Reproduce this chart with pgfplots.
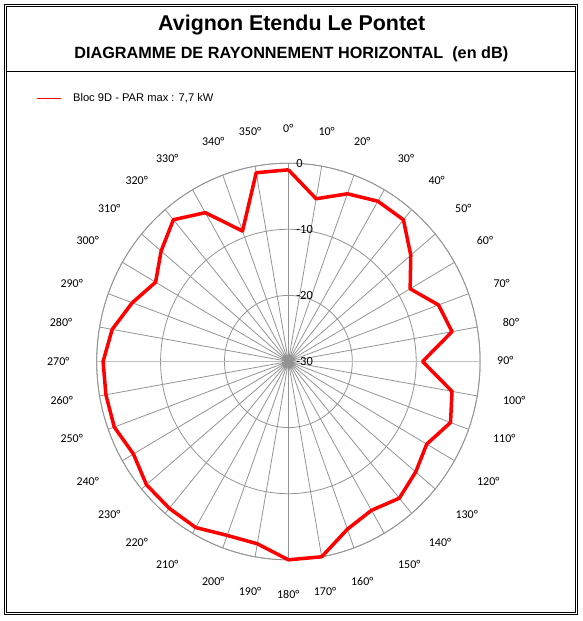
\documentclass[border=0pt]{standalone}
\usepackage{pgfplots}
\pgfplotsset{compat=1.18}
\usepgfplotslibrary{polar}
\usepackage{pgfplotstable}
\usepackage{fontspec}
\setmainfont{Liberation Sans}
\newfontfamily\calib{Carlito}

\pgfplotstableread{
angle db
0 -1
10 -5
20 -3
30 -2
40 -2
50 -5
60 -8
70 -5
80 -4
90 -9
100 -4
110 -3
120 -5
130 -4
140 -3
150 -4
160 -3
170 0
180 0
190 -2
200 -2
210 -1
220 -1
230 -1
240 -2
250 -1
260 -1
270 -1
280 -2
290 -4
300 -6
310 -4
320 -2
330 -4
340 -9
350 -1
360 -1
}\diagtable

\begin{document}
\begin{tikzpicture}
\path[use as bounding box] (0bp,0bp) rectangle (583bp,621bp);
\begin{scope}[x=1bp,y=-1bp,yshift=621bp]
  \draw[line width=1bp] (4.5,4.7) rectangle (577.3,615);
  \draw[line width=1bp] (6.3,6.3) rectangle (575,612.7);
  \draw[line width=1bp] (6.3,71.7) -- (575,71.7);
  \node[anchor=base, inner sep=0pt, font=\bfseries\fontsize{21.5}{24}\selectfont] at (291.7,31) {Avignon Etendu Le Pontet};
  \node[anchor=base, inner sep=0pt, font=\bfseries\fontsize{16.3}{19}\selectfont] at (291.3,58.3) {DIAGRAMME DE RAYONNEMENT HORIZONTAL\ \ (en dB)};
  \foreach \a/\px/\py in {0/288.3/128.3, 10/326.7/131.7, 20/362.3/141.7, 30/406/158.3, 40/436.7/180, 50/463.3/208.3, 60/485/240, 70/501.7/283.3, 80/511/322.3, 90/505.3/360.7, 100/514.3/400, 110/504.3/438.3, 120/488.3/481.7, 130/466.7/514.3, 140/440/542.3, 150/409.3/564.3, 160/362.3/581.7, 170/325/591.7, 180/288.3/594.3, 190/250/591, 200/213.3/581.7, 210/167.3/564.3, 220/136.7/542.3, 230/109.3/514.3, 240/87.7/481.7, 250/71.7/438.3, 260/61.7/400.7, 270/58.3/361.7, 280/61/322.3, 290/71.7/283.3, 300/87.7/240, 310/109.3/208.3, 320/136.7/180, 330/167.3/158.3, 340/213.3/141.7, 350/250/131.7}
    \node[inner sep=0pt, font=\calib\fontsize{12}{14}\selectfont] at (\px,\py) {\a°};
\end{scope}
\begin{polaraxis}[
  at={(288.4bp,259.5bp)}, anchor=center,
  width=383.4bp, height=396.6bp, scale only axis,
  xmin=0, xmax=360, ymin=0, ymax=30,
  xtick={0,10,...,350}, xticklabels={},
  ytick={0,10,20,30}, yticklabels={},
  xticklabel style={opacity=0, text opacity=0},
  yticklabel style={opacity=0, text opacity=0},
  major tick length=0pt,
  grid=major,
  major grid style={draw=black!42, line width=0.8bp},
  axis line style={draw=black!42, line width=0.8bp},
  x filter/.expression={mod(450-x,360)},
  y filter/.expression={y+30},
  clip=false,
  legend style={at={(axis description cs:-0.1583,1.1636)}, anchor=west, draw=none, fill=none, inner sep=0pt, outer sep=0pt,
    font=\fontsize{11.2}{13}\selectfont, nodes={inner sep=0pt},
    /tikz/every odd column/.append style={column sep=11bp}},
  legend image code/.code={\draw[#1, line width=1.4bp] (0bp,0bp) -- (24.7bp,0bp);},
]
\draw[black!25, line width=1.8bp] (axis cs:0,30) -- (axis cs:180,30);
\fill[black!42] (axis cs:0,0) circle[radius=4.5bp];
\addplot[red, line width=3.5bp, line join=round, mark=none] table[x=angle, y=db] {\diagtable};
\addlegendentry{Bloc 9D - PAR max : 7,7 kW}
\begin{scope}[every node/.style={anchor=west, inner sep=0pt, xshift=7.8bp, font=\calib\fontsize{12.5}{14}\selectfont}]
\node at (axis cs:90,30) {0};
\node at (axis cs:90,20) {-10};
\node at (axis cs:90,10) {-20};
\node at (axis cs:90,0) {-30};
\end{scope}
\end{polaraxis}
\end{tikzpicture}
\end{document}
